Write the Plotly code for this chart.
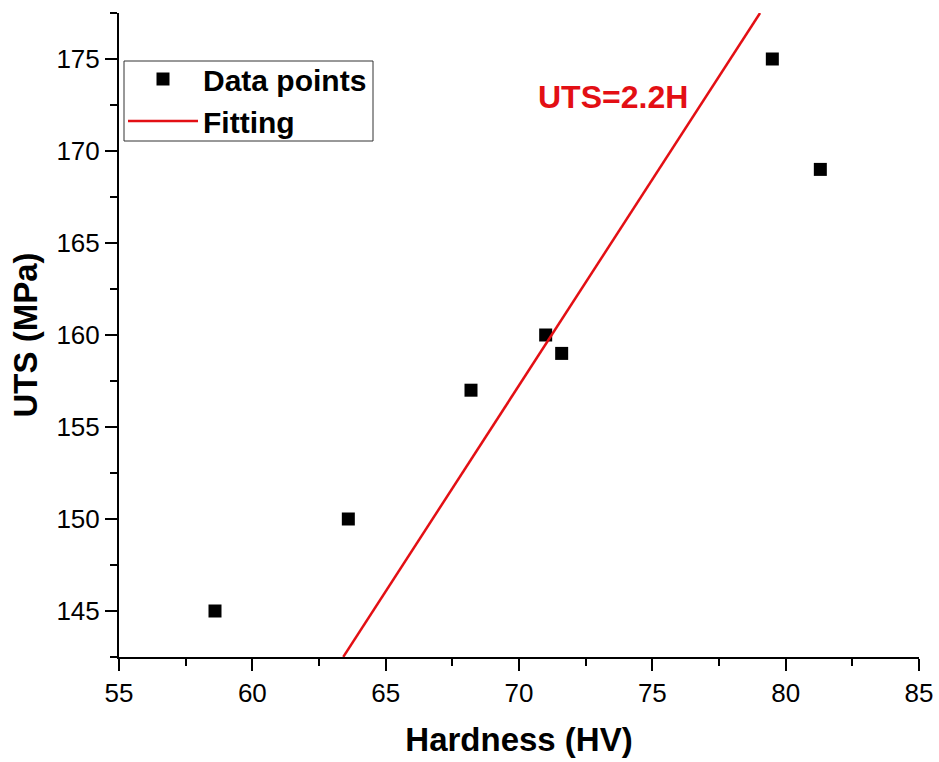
import plotly.graph_objects as go

hardness = [58.6, 63.6, 68.2, 71.0, 71.6, 79.5, 81.3]
uts = [145, 150, 157, 160, 159, 175, 169]

fit_x = [63.41, 79.04]
fit_slope = 2.239
fit_intercept = 0.53
fit_y = [fit_slope * x + fit_intercept for x in fit_x]

x_range = [55, 85]
y_range = [142.5, 177.5]
x_ticks = [55, 60, 65, 70, 75, 80, 85]
y_ticks = [145, 150, 155, 160, 165, 170, 175]

FONT = "Arial, Liberation Sans, sans-serif"
RED = "#e30f14"

fig = go.Figure()
fig.add_trace(go.Scatter(
    x=hardness, y=uts, mode="markers", name="<b>Data points</b>",
    marker=dict(symbol="square", size=13, color="black"),
))
fig.add_trace(go.Scatter(
    x=fit_x, y=fit_y, mode="lines", name="<b>Fitting</b>",
    line=dict(color=RED, width=2.5),
))

fig.add_annotation(
    x=73.52, y=172.94, xref="x", yref="y", text="<b>UTS=2.2H</b>",
    showarrow=False, xanchor="center", yanchor="middle",
    font=dict(family=FONT, size=32, color=RED),
)

# legend frame
fig.add_shape(
    type="rect", xref="paper", yref="paper",
    x0=5 / 800, x1=254 / 800, y0=1 - 128 / 644, y1=1 - 48 / 644,
    line=dict(color="#333333", width=1), fillcolor="rgba(0,0,0,0)", layer="above",
)

axis_common = dict(
    showline=True, linecolor="black", linewidth=2,
    ticks="outside", ticklen=12, tickwidth=2, tickcolor="black",
    showgrid=False, zeroline=False, mirror=False,
    tickfont=dict(family=FONT, size=26, color="black"),
)

fig.update_xaxes(
    range=x_range, tickvals=x_ticks, **axis_common,
    minor=dict(dtick=2.5, tick0=55, ticks="outside", ticklen=7, tickwidth=2, tickcolor="black", showgrid=False),
    title=dict(text="<b>Hardness (HV)</b>", font=dict(family=FONT, size=33, color="black"), standoff=21),
)
fig.update_yaxes(
    range=y_range, tickvals=y_ticks, **axis_common,
    minor=dict(dtick=2.5, tick0=142.5, ticks="outside", ticklen=7, tickwidth=2, tickcolor="black", showgrid=False),
    title=dict(text="<b>UTS (MPa)</b>", font=dict(family=FONT, size=33, color="black"), standoff=9),
)

fig.update_layout(
    width=939, height=762,
    margin=dict(l=119, r=20, t=13, b=105, autoexpand=False),
    plot_bgcolor="white", paper_bgcolor="white",
    showlegend=True,
    legend=dict(
        x=0.005, y=1 - 40 / 644, xanchor="left", yanchor="top",
        bgcolor="rgba(0,0,0,0)", borderwidth=0,
        font=dict(family=FONT, size=30, color="black"),
        itemwidth=70, tracegroupgap=0, traceorder="normal",
    ),
)

fig.write_html("out.html")
